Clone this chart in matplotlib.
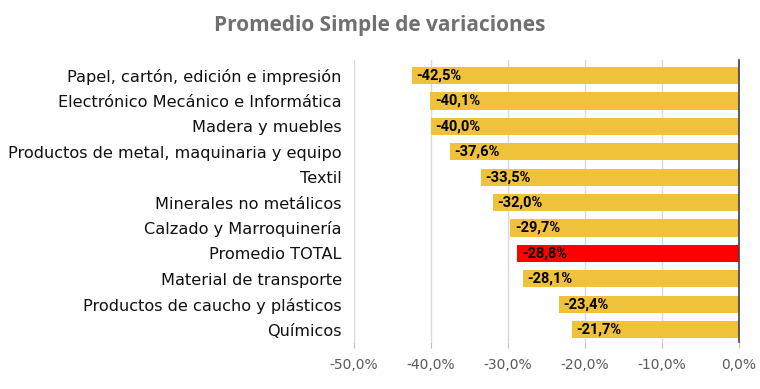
import matplotlib.pyplot as plt
from matplotlib.ticker import FuncFormatter

categories = [
    "Papel, cartón, edición e impresión",
    "Electrónico Mecánico e Informática",
    "Madera y muebles",
    "Productos de metal, maquinaria y equipo",
    "Textil",
    "Minerales no metálicos",
    "Calzado y Marroquinería",
    "Promedio TOTAL",
    "Material de transporte",
    "Productos de caucho y plásticos",
    "Químicos",
]
values = [-42.5, -40.1, -40.0, -37.6, -33.5, -32.0, -29.7, -28.8, -28.1, -23.4, -21.7]
highlight = "Promedio TOTAL"

gold = "#F0C23B"
red = "#FF0000"


def pct(v):
    return "{:.1f}%".format(v).replace(".", ",")


fig = plt.figure(figsize=(7.6, 3.89), dpi=100)
ax = fig.add_axes([0.466, 0.12, 0.506, 0.725])

ypos = list(range(len(categories)))
colors = [red if c == highlight else gold for c in categories]
ax.barh(ypos, values, height=0.68, color=colors, zorder=2)

for y, v in zip(ypos, values):
    ax.text(v + 0.6, y, pct(v), va="center", ha="left", fontsize=10.5,
            fontweight="bold", family="Roboto", color="black", zorder=3)

ax.set_xlim(-50, 0)
ax.set_ylim(len(categories) - 0.5, -0.6)
ax.set_xticks([-50, -40, -30, -20, -10, 0])
ax.xaxis.set_major_formatter(FuncFormatter(lambda v, _: pct(v)))
ax.set_yticks(ypos)
ax.set_yticklabels(categories, fontsize=11.6, color="#111111")
ax.tick_params(axis="y", length=0, pad=9)
ax.tick_params(axis="x", length=4, color="#bfbfbf", labelsize=10,
               labelcolor="#595959", pad=7)
ax.grid(axis="x", color="#d9d9d9", linewidth=1, zorder=0)
for side in ["top", "left", "bottom"]:
    ax.spines[side].set_visible(False)
ax.spines["right"].set_color("#404040")
ax.spines["right"].set_linewidth(1.2)

fig.text(0.5, 0.935, "Promedio Simple de variaciones", ha="center", va="center",
         fontsize=15, fontweight="bold", family="Open Sans", color="#707070")

fig.savefig("out.png", dpi=100, facecolor="white")
